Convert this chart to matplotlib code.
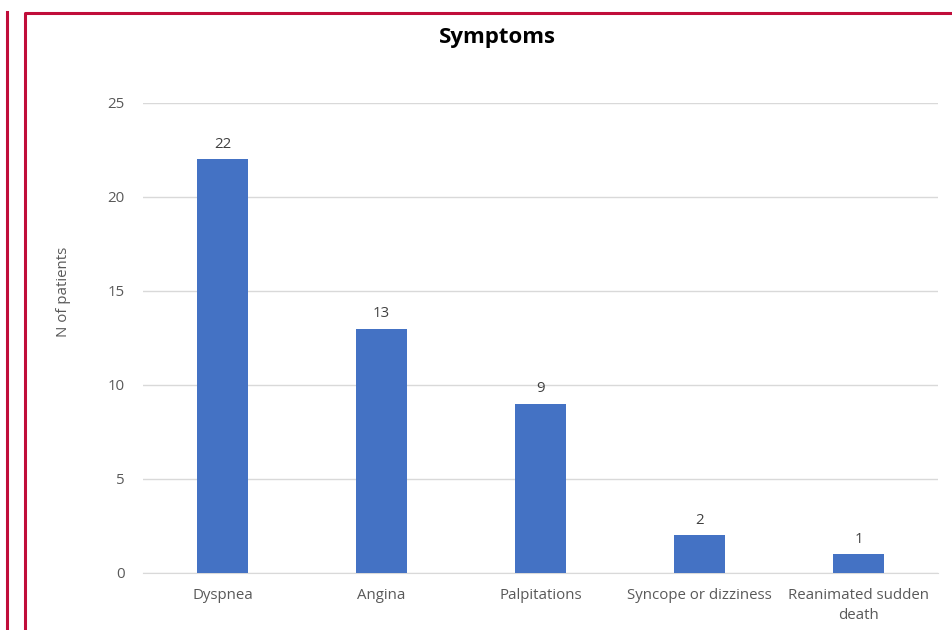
"""Bar chart of presenting symptoms."""

import matplotlib

matplotlib.use("Agg")

import matplotlib.pyplot as plt
from matplotlib.lines import Line2D

categories = [
    "Dyspnea",
    "Angina",
    "Palpitations",
    "Syncope or dizziness",
    "Reanimated sudden\ndeath",
]
patients = [22, 13, 9, 2, 1]
y_ticks = [0, 5, 10, 15, 20, 25]

BAR_COLOR = "#4472C4"
TEXT_COLOR = "#595959"
GRID_COLOR = "#D9D9D9"
FRAME_COLOR = "#C00D3A"

plt.rcParams["font.family"] = ["Open Sans", "DejaVu Sans"]

fig = plt.figure(figsize=(9.53, 6.30), dpi=100)
W, H = 953, 630
ax = fig.add_axes([143 / W, 1 - 573 / H, (938 - 143) / W, (573 - 103) / H])

x = range(len(categories))
ax.bar(x, patients, width=0.315, color=BAR_COLOR, zorder=3)
for xi, v in zip(x, patients):
    ax.text(xi, v + 0.4, str(v), ha="center", va="bottom",
            fontsize=10.8, color="#404040")

ax.set_xlim(-0.5, len(categories) - 0.5)
ax.set_ylim(0, 25)
ax.set_yticks(y_ticks)
ax.set_xticks(list(x))
ax.set_xticklabels(categories, fontsize=10.8, color=TEXT_COLOR, linespacing=1.45)
ax.tick_params(axis="y", labelsize=10.8, labelcolor=TEXT_COLOR, length=0, pad=13)
ax.tick_params(axis="x", length=0, pad=11)
ax.grid(axis="y", color=GRID_COLOR, linewidth=1, zorder=0)
for side in ("top", "right", "left"):
    ax.spines[side].set_visible(False)
ax.spines["bottom"].set_color(GRID_COLOR)
ax.set_ylabel("N of patients", fontsize=10.8, color=TEXT_COLOR)
ax.yaxis.set_label_coords(-0.091, 0.598)

fig.text(497 / W, 1 - 38 / H, "Symptoms", ha="center", va="center",
         fontsize=16, fontweight="bold", color="black")

# red page frame lines
fig.add_artist(Line2D([7 / W, 7 / W], [0, 1 - 12 / H], transform=fig.transFigure,
                      color=FRAME_COLOR, linewidth=2.2))
fig.add_artist(Line2D([25 / W, 25 / W, 1], [0, 1 - 13 / H, 1 - 13 / H],
                      transform=fig.transFigure, color=FRAME_COLOR, linewidth=2.2))

fig.savefig("out.png", dpi=100)
